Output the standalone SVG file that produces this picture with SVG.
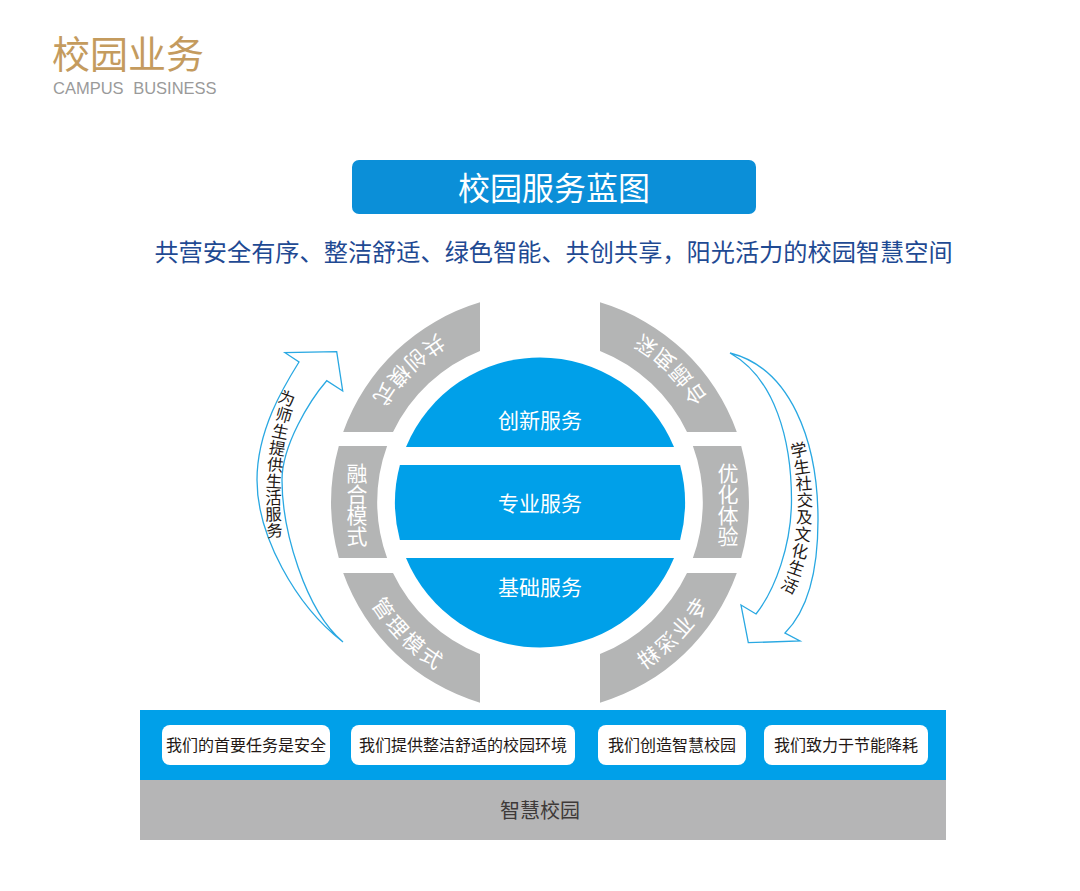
<svg xmlns="http://www.w3.org/2000/svg" width="1080" height="891" viewBox="0 0 1080 891">
<style>
.cjk{font-family:"Noto Sans CJK SC","Noto Sans",sans-serif}
.seg{fill:#b4b5b5}
.core{fill:#00a0e9}
.segt{fill:#fff;font-size:21px}
.arct{letter-spacing:3px}
.coret{fill:#fff;font-size:21px;text-anchor:middle}
.arrow{fill:#fff;stroke:#29a8e2;stroke-width:1.3;stroke-linejoin:miter}
.arrt{fill:#231815;font-size:16.5px}
.box{fill:#fff}
.boxt{fill:#231815;font-size:16px;text-anchor:middle}
</style>
<defs>
<path id="arcTL" d="M489,312.2 A197,197 0 0 0 349.7,451.5"/>
<path id="arcBL" d="M349.7,553.5 A197,197 0 0 0 489,692.8"/>
</defs>
<rect width="1080" height="891" fill="#fff"/>

<g id="header">
<text x="52" y="68" class="cjk" font-size="38" fill="#c49b5e">校园业务</text>
<text x="53" y="94" font-family="'Liberation Sans', Arial, sans-serif" font-size="16.5" fill="#9a9a9a" word-spacing="5">CAMPUS BUSINESS</text>
</g>

<g id="title">
<rect x="352" y="160" width="404" height="54" rx="7" fill="#0b8fd8"/>
<text x="554" y="200" class="cjk" font-size="32" fill="#fff" text-anchor="middle">校园服务蓝图</text>
</g>

<g id="subtitle">
<text x="553.5" y="261" class="cjk" font-size="24.2" fill="#1f4a93" text-anchor="middle">共营安全有序、整洁舒适、绿色智能、共创共享，阳光活力的校园智慧空间</text>
</g>

<g id="seg-gongchuang">
<path class="seg" d="M480,302.3 A209,209 0 0 0 343.2,432 L393,432 A163,163 0 0 1 480,350.9 Z"/>
<text class="cjk segt arct"><textPath href="#arcTL" startOffset="50%" text-anchor="middle">共创模式</textPath></text>
</g>
<g id="seg-shendu">
<path class="seg" d="M600,302.3 A209,209 0 0 1 736.8,432 L687,432 A163,163 0 0 0 600,350.9 Z"/>
<g transform="matrix(-1 0 0 1 1080 0)">
<text class="cjk segt arct"><textPath href="#arcTL" startOffset="50%" text-anchor="middle">深度融合</textPath></text>
</g>
</g>
<g id="seg-ronghe">
<path class="seg" d="M338.8,446 L387.1,446 A163,163 0 0 0 387.1,558 L338.8,558 A209,209 0 0 1 338.8,446 Z"/>
<text class="cjk segt" text-anchor="middle" x="357 357 357 357" y="480.5 501.5 522.5 543.5">融合模式</text>
</g>
<g id="seg-youhua">
<path class="seg" d="M741.2,446 L692.9,446 A163,163 0 0 1 692.9,558 L741.2,558 A209,209 0 0 0 741.2,446 Z"/>
<text class="cjk segt" text-anchor="middle" x="728 728 728 728" y="480.5 501.5 522.5 543.5">优化体验</text>
</g>
<g id="seg-guanli">
<path class="seg" d="M480,702.7 A209,209 0 0 1 343.2,573 L393,573 A163,163 0 0 0 480,654.1 Z"/>
<text class="cjk segt arct"><textPath href="#arcBL" startOffset="50%" text-anchor="middle">管理模式</textPath></text>
</g>
<g id="seg-zhuanye">
<path class="seg" d="M600,702.7 A209,209 0 0 0 736.8,573 L687,573 A163,163 0 0 1 600,654.1 Z"/>
<g transform="matrix(-1 0 0 1 1080 0)">
<text class="cjk segt arct"><textPath href="#arcBL" startOffset="50%" text-anchor="middle">专业深耕</textPath></text>
</g>
</g>

<g id="core-chuangxin">
<path class="core" d="M406,447 A145,145 0 0 1 674,447 Z"/>
<text class="cjk coret" x="540" y="428">创新服务</text>
</g>
<g id="core-zhuanye">
<path class="core" d="M399.9,465 L680.1,465 A145,145 0 0 1 680.1,540 L399.9,540 A145,145 0 0 1 399.9,465 Z"/>
<text class="cjk coret" x="540" y="511">专业服务</text>
</g>
<g id="core-jichu">
<path class="core" d="M406,558 L674,558 A145,145 0 0 1 406,558 Z"/>
<text class="cjk coret" x="540" y="595">基础服务</text>
</g>

<g id="connectors">
<g id="arrow-left">
<path class="arrow" d="M343,642 C295,605 257,535 257,480 C257,430 284,386 299,362 L285,352.7 L336.7,351.7 L342.7,391 L326.7,380.7 C310,400 282,445 282,480 C282,530 305,610 343,642 Z"/>
<text class="cjk arrt" x="277.1 274.3 271.1 268.3 266.6 265.4 265.2 265.5 266.9" y="401.2 418.8 436.0 453.0 469.9 486.9 503.8 520.7 537.6" rotate="20 16 12 9 6 3 0 -3 -6">为师生提供生活服务</text>
</g>
<g id="arrow-right">
<path class="arrow" d="M730,353 C790,368 818,440 818,520 C818,570 808,610 785,633 L800,641 L748.3,642.7 L741,605 L756,614 C775,590 791.5,545 791.5,500 C791.5,440 775,378 730,353 Z"/>
<text class="cjk arrt" x="792.1 794.6 796.1 796.8 796.0 794.1 790.6 786.2 779.8" y="457.8 474.3 490.3 506.4 523.0 539.4 555.5 571.3 587.0" rotate="-12 -8 -4 -1 2 6 12 19 27">学生社交及文化生活</text>
</g>
</g>

<g id="base-band">
<rect x="140" y="710" width="806" height="70" fill="#00a0e9"/>
</g>
<g id="box-anquan">
<rect class="box" x="162" y="725" width="168" height="40" rx="8"/>
<text class="cjk boxt" x="246" y="751">我们的首要任务是安全</text>
</g>
<g id="box-huanjing">
<rect class="box" x="351" y="725" width="224" height="40" rx="8"/>
<text class="cjk boxt" x="463" y="751">我们提供整洁舒适的校园环境</text>
</g>
<g id="box-zhihui">
<rect class="box" x="598" y="725" width="148" height="40" rx="8"/>
<text class="cjk boxt" x="672" y="751">我们创造智慧校园</text>
</g>
<g id="box-jieneng">
<rect class="box" x="764" y="725" width="164" height="40" rx="8"/>
<text class="cjk boxt" x="846" y="751">我们致力于节能降耗</text>
</g>
<g id="smart-campus">
<rect x="140" y="780" width="806" height="60" fill="#b5b5b6"/>
<text x="540" y="818" class="cjk" font-size="20" fill="#3e3a39" text-anchor="middle">智慧校园</text>
</g>
</svg>
